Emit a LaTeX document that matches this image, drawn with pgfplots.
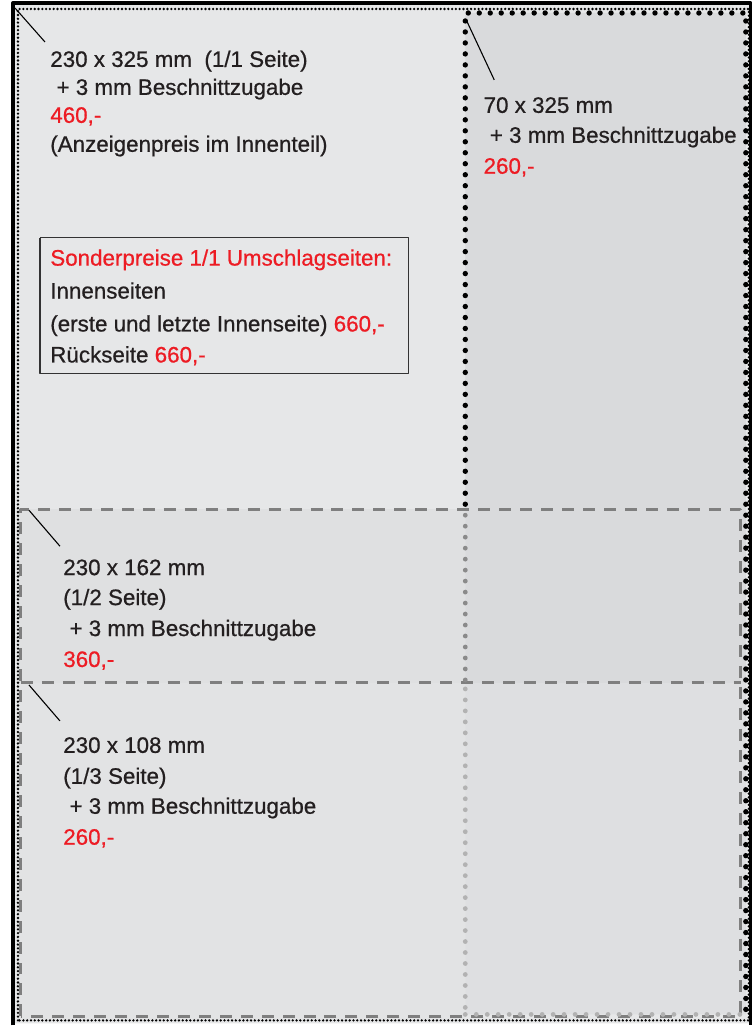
\documentclass[border=0pt]{standalone}
\usepackage{pgfplots}
\pgfplotsset{compat=1.18}
\usepackage{fontspec}
\setmainfont{Liberation Sans}[FakeBold=0.7]
\definecolor{txt}{HTML}{231F20}
\definecolor{rd}{HTML}{ED1C24}
\definecolor{bgA}{HTML}{E6E7E8}
\definecolor{bgB}{HTML}{DFE0E1}
\definecolor{bgC}{HTML}{E2E3E4}
\definecolor{colA}{HTML}{D9DADC}
\definecolor{colB}{HTML}{DEDFE1}
\definecolor{dashg}{HTML}{7F7F7F}
\definecolor{dotg}{HTML}{8A8A8A}
\definecolor{dotl}{HTML}{B2B2B2}
\tikzset{txtnode/.style={anchor=base west, inner sep=0pt, text=txt, font=\fontsize{11.2}{14}\selectfont}}
\begin{document}
\begin{tikzpicture}
\begin{axis}[
  anchor=south west, at={(0,0)},
  width=377pt, height=513.5pt, scale only axis,
  xmin=0, xmax=754, ymin=0, ymax=1027, y dir=reverse,
  hide axis, clip=false, no markers,
  every axis plot/.append style={line join=round},
]
% backgrounds
\addplot[fill=white, draw=none] coordinates {(0,0)(754,0)(754,1027)(0,1027)(0,0)};
\addplot[fill=bgA, draw=none] coordinates {(13,3)(752,3)(752,1025)(13,1025)(13,3)};
\addplot[fill=bgB, draw=none] coordinates {(18,510)(466,510)(466,684)(18,684)(18,510)};
\addplot[fill=bgC, draw=none] coordinates {(18,684)(466,684)(466,1022)(18,1022)(18,684)};
\addplot[fill=colA, draw=none] coordinates {(466,13)(747,13)(747,684)(466,684)(466,13)};
\addplot[fill=colB, draw=none] coordinates {(466,684)(747,684)(747,1016)(466,1016)(466,684)};
% outer black frame
\addplot[draw=black, line width=1.6pt, line cap=butt] coordinates {(13,1027)(13,3)(752,3)(752,1027)};
% small dotted page border
\addplot[draw=black, line width=1.3pt, line cap=round, dash pattern=on 0pt off 1.9pt] coordinates {(18,1022)(18,9)(750,9)(750,1022)(18,1022)};
% dashed 1/2 and 1/3 page
\addplot[draw=dashg, line width=1.5pt, dash pattern=on 6pt off 4.5pt] coordinates {(21,1018)(21,510)(742,510)(742,1018)(21,1018)};
\addplot[draw=dashg, line width=1.5pt, dash pattern=on 6pt off 4.5pt] coordinates {(21,684)(742,684)};
% gray dotted column line
\addplot[draw=dotg, line width=2.4pt, line cap=round, dash pattern=on 0pt off 5.5pt] coordinates {(466,516)(466,684)};
\addplot[draw=dotl, line width=2.4pt, line cap=round, dash pattern=on 0pt off 5.5pt] coordinates {(466,690)(466,1016)};
\addplot[draw=dotl, line width=2.4pt, line cap=round, dash pattern=on 0pt off 5.5pt] coordinates {(466,1016)(747,1016)};
% big black dotted column border
\addplot[draw=black, line width=2.7pt, line cap=round, dash pattern=on 0pt off 5.5pt] coordinates {(466,505)(466,13)(747,13)(747,1016)};
% diagonal pointers
\addplot[draw=black, line width=0.55pt] coordinates {(15,8)(45,42)};
\addplot[draw=black, line width=0.55pt] coordinates {(467,20)(495,80)};
\addplot[draw=black, line width=0.55pt] coordinates {(29,511)(60,547)};
\addplot[draw=black, line width=0.55pt] coordinates {(29,686)(60,722)};
% special price box
\addplot[draw=black!80, line width=0.75pt] coordinates {(40,238)(409,238)(409,374)(40,374)(40,238)};
% texts: full page
\node[txtnode] at (axis cs:50,67) {230 x 325 mm\ \ (1/1 Seite)};
\node[txtnode] at (axis cs:50,95) {\ + 3 mm Beschnittzugabe};
\node[txtnode, text=rd] at (axis cs:50,123) {460,-};
\node[txtnode] at (axis cs:50,152) {(Anzeigenpreis im Innenteil)};
% right column
\node[txtnode] at (axis cs:484,113) {70 x 325 mm};
\node[txtnode] at (axis cs:484,143) {\ + 3 mm Beschnittzugabe};
\node[txtnode, text=rd] at (axis cs:484,174) {260,-};
% box
\node[txtnode, text=rd] at (axis cs:50,266) {Sonderpreise 1/1 Umschlagseiten:};
\node[txtnode] at (axis cs:50,299) {Innenseiten};
\node[txtnode] at (axis cs:50,332) {(erste und letzte Innenseite) \textcolor{rd}{660,-}};
\node[txtnode] at (axis cs:50,363) {Rückseite \textcolor{rd}{660,-}};
% half page
\node[txtnode] at (axis cs:63,576) {230 x 162 mm};
\node[txtnode] at (axis cs:63,606) {(1/2 Seite)};
\node[txtnode] at (axis cs:63,637) {\ + 3 mm Beschnittzugabe};
\node[txtnode, text=rd] at (axis cs:63,668) {360,-};
% third page
\node[txtnode] at (axis cs:63,754) {230 x 108 mm};
\node[txtnode] at (axis cs:63,785) {(1/3 Seite)};
\node[txtnode] at (axis cs:63,815) {\ + 3 mm Beschnittzugabe};
\node[txtnode, text=rd] at (axis cs:63,846) {260,-};
\end{axis}
\end{tikzpicture}
\end{document}
